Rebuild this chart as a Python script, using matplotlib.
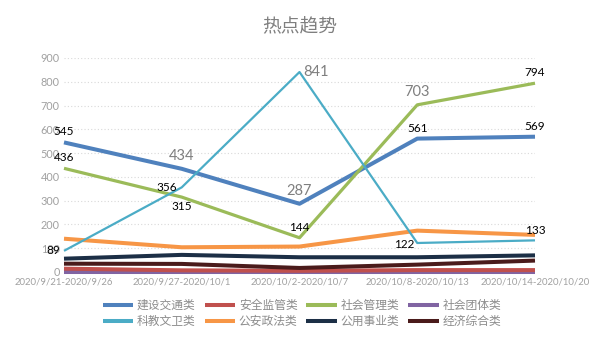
import matplotlib
matplotlib.use("Agg")
import matplotlib.pyplot as plt

categories = ["2020/9/21-2020/9/26", "2020/9/27-2020/10/1", "2020/10/2-2020/10/7",
              "2020/10/8-2020/10/13", "2020/10/14-2020/10/20"]

jianshe = [545, 434, 287, 561, 569]      # 建设交通类
anquan = [14, 7, 5, 8, 8]               # 安全监管类
shehui_guanli = [436, 315, 144, 703, 794]  # 社会管理类
shehui_tuanti = [2, 2, 2, 2, 2]          # 社会团体类
kejiao = [89, 356, 841, 122, 133]        # 科教文卫类
gongan = [140, 104, 107, 174, 156]       # 公安政法类
gongyong = [56, 72, 62, 62, 70]          # 公用事业类
jingji = [35, 34, 17, 31, 48]            # 经济综合类

yticks = [0, 100, 200, 300, 400, 500, 600, 700, 800, 900]

cjk = ["Noto Sans CJK SC", "DejaVu Sans"]
latin = ["Lato", "DejaVu Sans"]

fig = plt.figure(figsize=(6.05, 3.4), dpi=100)
ax = fig.add_axes([64/605, 1-272/340, (535-64)/605, (272-58)/340])

x = list(range(len(categories)))

series = [
    ("建设交通类", jianshe, "#4F81BD", 2.9),
    ("安全监管类", anquan, "#C0504D", 2.9),
    ("社会管理类", shehui_guanli, "#9BBB59", 2.3),
    ("社会团体类", shehui_tuanti, "#8064A2", 2.9),
    ("科教文卫类", kejiao, "#4BACC6", 1.6),
    ("公安政法类", gongan, "#F79646", 2.9),
    ("公用事业类", gongyong, "#1C2F46", 2.9),
    ("经济综合类", jingji, "#4A1B1B", 2.9),
]
handles = {}
draw_order = ["社会团体类", "安全监管类", "经济综合类", "公用事业类", "公安政法类",
              "建设交通类", "社会管理类", "科教文卫类"]
sdict = {s[0]: s for s in series}
for name in draw_order:
    n, vals, col, lw = sdict[name]
    h, = ax.plot(x, vals, color=col, lw=lw, clip_on=False, solid_capstyle="butt", zorder=3)
    handles[name] = h

ax.set_xlim(0, 4)
ax.set_ylim(0, 900)
ax.set_yticks(yticks)
ax.set_yticklabels([str(v) for v in yticks], family=latin, fontsize=7.8, color="#A0A0A0")
ax.set_xticks(x)
ax.set_xticklabels(categories, family=latin, fontsize=6.9, color="#A0A0A0")
ax.tick_params(axis="both", length=0)
ax.tick_params(axis="y", pad=3)
ax.tick_params(axis="x", pad=4)
for s in ax.spines.values():
    s.set_visible(False)
ax.grid(axis="y", color="#D9D9D9", lw=0.8, ls=(0, (1, 2)))
ax.set_axisbelow(True)

big = {"fontsize": 10.5, "color": "#7F7F7F"}
small = {"fontsize": 8.5, "color": "#000000"}

def lab(i, vals, dx, dy, style, ha="center", va="center"):
    ax.annotate(str(vals[i]), (x[i], vals[i]), xytext=(dx, dy), textcoords="offset points",
                ha=ha, va=va, family=latin, zorder=5, annotation_clip=False, **style)

# 建设交通类
lab(0, jianshe, 0, 7.5, small)
lab(1, jianshe, 0, 9, big)
lab(2, jianshe, 0, 9, big)
lab(3, jianshe, 0, 7.5, small)
lab(4, jianshe, 0, 7.5, small)
# 社会管理类
lab(0, shehui_guanli, 0, 7.5, small)
lab(1, shehui_guanli, 0, -7, small)
lab(2, shehui_guanli, 0, 7.5, small)
lab(3, shehui_guanli, 0, 9, big)
lab(4, shehui_guanli, 0, 8, small)
# 科教文卫类
lab(0, kejiao, -3, 0, small, ha="right")
lab(1, kejiao, -3.5, 0, small, ha="right")
lab(2, kejiao, 3, 0, big, ha="left")
lab(3, kejiao, -2, -1, small, ha="right")
lab(4, kejiao, 0, 7, small)

fig.text(300/605, 1-27/340, "热点趋势", family=cjk, fontsize=13.5, color="#7F7F7F",
         ha="center", va="center")

order = ["建设交通类", "科教文卫类", "安全监管类", "公安政法类",
         "社会管理类", "公用事业类", "社会团体类", "经济综合类"]
leg = fig.legend([handles[n] for n in order], order, loc="center",
                 bbox_to_anchor=(302/605, 1-313.5/340), ncol=4, frameon=False,
                 prop={"family": cjk, "size": 8.5}, handlelength=2.6, handletextpad=0.3,
                 columnspacing=0.75, labelspacing=0.25, borderpad=0, labelcolor="#8C8C8C")
for lh in leg.get_lines():
    lh.set_linewidth(2.9)

fig.savefig("out.png", dpi=100)
